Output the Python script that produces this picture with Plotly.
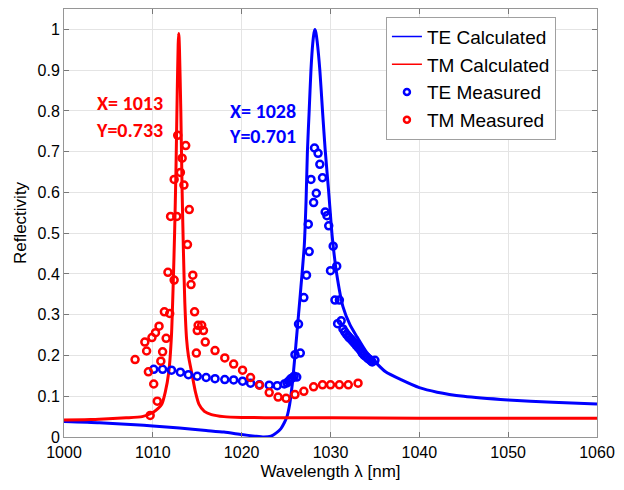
import plotly.graph_objects as go

# Calculated spectra
te_calc_x = [1000, 1004, 1008, 1010, 1013, 1016, 1018, 1020, 1021.5, 1022.5, 1023.3, 1023.9, 1024.4,
             1024.8, 1025.1, 1025.4, 1025.7, 1026.0, 1026.2, 1026.6, 1027.05, 1027.25, 1027.4, 1027.6,
             1027.8, 1028.0, 1028.15, 1028.25, 1028.35, 1028.5, 1028.8, 1029.1, 1029.4, 1029.8, 1030.2,
             1030.7, 1031.4, 1032.2, 1033.0, 1034.0, 1035.0, 1036.2, 1038, 1040, 1042, 1045, 1050, 1055, 1060]
te_calc_y = [0.038, 0.035, 0.030, 0.027, 0.022, 0.016, 0.012, 0.006, 0.002, 0.0, 0.002, 0.010, 0.020,
             0.035, 0.050, 0.080, 0.130, 0.200, 0.250, 0.350, 0.470, 0.580, 0.700, 0.800,
             0.900, 0.965, 0.992, 1.000, 0.993, 0.970, 0.900, 0.800, 0.705, 0.600, 0.490,
             0.400, 0.320, 0.275, 0.245, 0.210, 0.185, 0.160, 0.140, 0.121, 0.110, 0.100, 0.091, 0.085, 0.081]

tm_calc_x = [1000, 1003, 1005, 1007, 1008.8, 1010, 1010.6, 1011.0, 1011.4, 1011.8, 1012.1, 1012.3,
             1012.45, 1012.6, 1012.75, 1012.85, 1012.9, 1012.95, 1013.0, 1013.15, 1013.3, 1013.45,
             1013.6, 1013.8, 1014.0, 1014.4, 1014.8, 1015.2, 1015.8, 1016.6, 1018, 1020, 1025, 1030,
             1040, 1050, 1060]
tm_calc_y = [0.042, 0.043, 0.045, 0.047, 0.050, 0.060, 0.070, 0.080, 0.110, 0.160, 0.250, 0.380,
             0.500, 0.650, 0.850, 0.960, 0.990, 0.980, 0.950, 0.800, 0.600, 0.450,
             0.330, 0.240, 0.200, 0.155, 0.110, 0.080, 0.063, 0.055, 0.050, 0.048, 0.047, 0.047,
             0.046, 0.046, 0.046]

# Measured spectra
te_meas_x = [1010.1, 1011.1, 1012.1, 1013.1, 1014.0, 1015.0, 1016.0, 1017.0, 1018.1, 1019.1, 1020.1,
             1021.0, 1022.0, 1023.1, 1024.0, 1024.8, 1025.1, 1025.3, 1025.5, 1025.7, 1025.9, 1026.2,
             1026.0, 1026.6, 1026.4, 1027.0, 1027.3, 1027.6, 1027.5, 1028.1, 1028.4, 1027.8, 1028.2,
             1028.6, 1028.8, 1029.1, 1029.4, 1029.6, 1029.8, 1030.3, 1030.0, 1030.7, 1030.5, 1031.0,
             1030.8, 1031.2, 1031.4, 1031.6, 1031.8, 1032.0, 1032.1, 1032.3, 1032.5, 1032.7, 1032.9,
             1033.1, 1033.3, 1033.5, 1033.6, 1033.8, 1034.0, 1034.2, 1034.4, 1034.6, 1034.7, 1035.0]
te_meas_y = [0.166, 0.166, 0.164, 0.159, 0.153, 0.149, 0.146, 0.143, 0.141, 0.140, 0.137,
             0.132, 0.128, 0.127, 0.126, 0.130, 0.133, 0.137, 0.142, 0.145, 0.149, 0.147,
             0.202, 0.206, 0.277, 0.342, 0.397, 0.455, 0.522, 0.575, 0.598, 0.632, 0.709,
             0.696, 0.669, 0.636, 0.552, 0.543, 0.518, 0.468, 0.408, 0.419, 0.336, 0.336,
             0.278, 0.285, 0.265, 0.258, 0.252, 0.247, 0.244, 0.240, 0.235, 0.230, 0.225,
             0.220, 0.215, 0.209, 0.205, 0.200, 0.197, 0.193, 0.190, 0.186, 0.184, 0.188]

tm_meas_x = [1008.0, 1009.1, 1009.3, 1009.5, 1009.7, 1009.9, 1010.1, 1010.3, 1010.5, 1010.7, 1010.9,
             1011.1, 1011.3, 1011.5, 1011.7, 1011.9, 1012.0, 1012.4, 1012.4, 1012.7, 1012.8, 1013.1,
             1013.3, 1013.5, 1013.7, 1013.9, 1014.1, 1014.3, 1014.5, 1014.7, 1014.9, 1015.0, 1015.1,
             1015.5, 1015.7, 1015.9, 1017.0, 1018.1, 1019.1, 1020.1, 1021.0, 1022.0, 1023.1, 1024.1,
             1025.0, 1026.0, 1027.0, 1028.1, 1029.1, 1030.0, 1031.0, 1032.0, 1033.1]
tm_meas_y = [0.190, 0.233, 0.211, 0.160, 0.053, 0.244, 0.130, 0.256, 0.088, 0.272, 0.186,
             0.209, 0.307, 0.242, 0.404, 0.303, 0.541, 0.632, 0.385, 0.541, 0.740, 0.649,
             0.684, 0.618, 0.715, 0.472, 0.558, 0.374, 0.397, 0.307, 0.206, 0.261, 0.274,
             0.274, 0.261, 0.233, 0.212, 0.194, 0.179, 0.164, 0.146, 0.127, 0.109, 0.098,
             0.095, 0.104, 0.112, 0.123, 0.128, 0.128, 0.128, 0.128, 0.132]

x_ticks = [1000, 1010, 1020, 1030, 1040, 1050, 1060]
y_ticks = [0, 0.1, 0.2, 0.3, 0.4, 0.5, 0.6, 0.7, 0.8, 0.9, 1]
y_tick_text = ["0", "0.1", "0.2", "0.3", "0.4", "0.5", "0.6", "0.7", "0.8", "0.9", "1"]

BLUE = "rgb(0,0,255)"
RED = "rgb(255,0,0)"

fig = go.Figure()
fig.add_trace(go.Scatter(x=te_calc_x, y=te_calc_y, mode="lines", name="TE Calculated", showlegend=False,
                         line=dict(color=BLUE, width=3, shape="spline", smoothing=0.6)))
fig.add_trace(go.Scatter(x=tm_calc_x, y=tm_calc_y, mode="lines", name="TM Calculated", showlegend=False,
                         line=dict(color=RED, width=3, shape="spline", smoothing=0.6)))
fig.add_trace(go.Scatter(x=te_meas_x, y=te_meas_y, mode="markers", name="TE Measured", showlegend=False,
                         marker=dict(symbol="circle-open", size=7, color=BLUE, line=dict(width=2.5, color=BLUE))))
fig.add_trace(go.Scatter(x=tm_meas_x, y=tm_meas_y, mode="markers", name="TM Measured", showlegend=False,
                         marker=dict(symbol="circle-open", size=7, color=RED, line=dict(width=2.5, color=RED))))

# legend entries (thin sample lines, as in the reference legend)
fig.add_trace(go.Scatter(x=[None], y=[None], mode="lines", name="TE Calculated",
                         line=dict(color=BLUE, width=1.5)))
fig.add_trace(go.Scatter(x=[None], y=[None], mode="lines", name="TM Calculated",
                         line=dict(color=RED, width=1.5)))
fig.add_trace(go.Scatter(x=[None], y=[None], mode="markers", name="TE Measured",
                         marker=dict(symbol="circle-open", size=6, color=BLUE, line=dict(width=2.5, color=BLUE))))
fig.add_trace(go.Scatter(x=[None], y=[None], mode="markers", name="TM Measured",
                         marker=dict(symbol="circle-open", size=6, color=RED, line=dict(width=2.5, color=RED))))

ann_font = "Calibri, Carlito, Arial"
fig.add_annotation(x=1007.4, y=0.82, xref="x", yref="y", text="<b>X= 1013</b>", showarrow=False,
                   font=dict(color=RED, size=20, family=ann_font))
fig.add_annotation(x=1007.4, y=0.754, xref="x", yref="y", text="<b>Y=0.733</b>", showarrow=False,
                   font=dict(color=RED, size=20, family=ann_font))
fig.add_annotation(x=1022.4, y=0.80, xref="x", yref="y", text="<b>X= 1028</b>", showarrow=False,
                   font=dict(color=BLUE, size=20, family=ann_font))
fig.add_annotation(x=1022.4, y=0.739, xref="x", yref="y", text="<b>Y=0.701</b>", showarrow=False,
                   font=dict(color=BLUE, size=20, family=ann_font))

axis_common = dict(showgrid=True, gridcolor="rgb(228,228,228)", gridwidth=1,
                   showline=True, linecolor="rgb(150,150,150)", linewidth=1, mirror="ticks",
                   ticks="inside", ticklen=5, tickcolor="rgb(120,120,120)", zeroline=False,
                   tickfont=dict(size=16, color="black", family="Arial"))

fig.update_xaxes(range=[1000, 1060], tickvals=x_ticks, ticktext=[str(v) for v in x_ticks],
                 ticklabelstandoff=1,
                 title=dict(text="Wavelength λ [nm]", font=dict(size=17, color="black", family="Arial"), standoff=4),
                 **axis_common)
fig.update_yaxes(range=[0, 1.05], tickvals=y_ticks, ticktext=y_tick_text,
                 title=dict(text="Reflectivity", font=dict(size=17, color="black", family="Arial"), standoff=6),
                 **axis_common)

# the page adds an 8px body margin, so the figure is sized to fit the visible window after that offset
fig.update_layout(
    width=608, height=474,
    margin=dict(l=56, r=19, t=1, b=45),
    plot_bgcolor="white", paper_bgcolor="white",
    font=dict(family="Arial", color="black"),
    legend=dict(x=0.604, y=0.982, xanchor="left", yanchor="top",
                bordercolor="rgb(160,160,160)", borderwidth=1, bgcolor="white",
                font=dict(size=19, color="black", family="Arial"),
                tracegroupgap=0, itemwidth=30),
)

fig.write_html("out.html")
